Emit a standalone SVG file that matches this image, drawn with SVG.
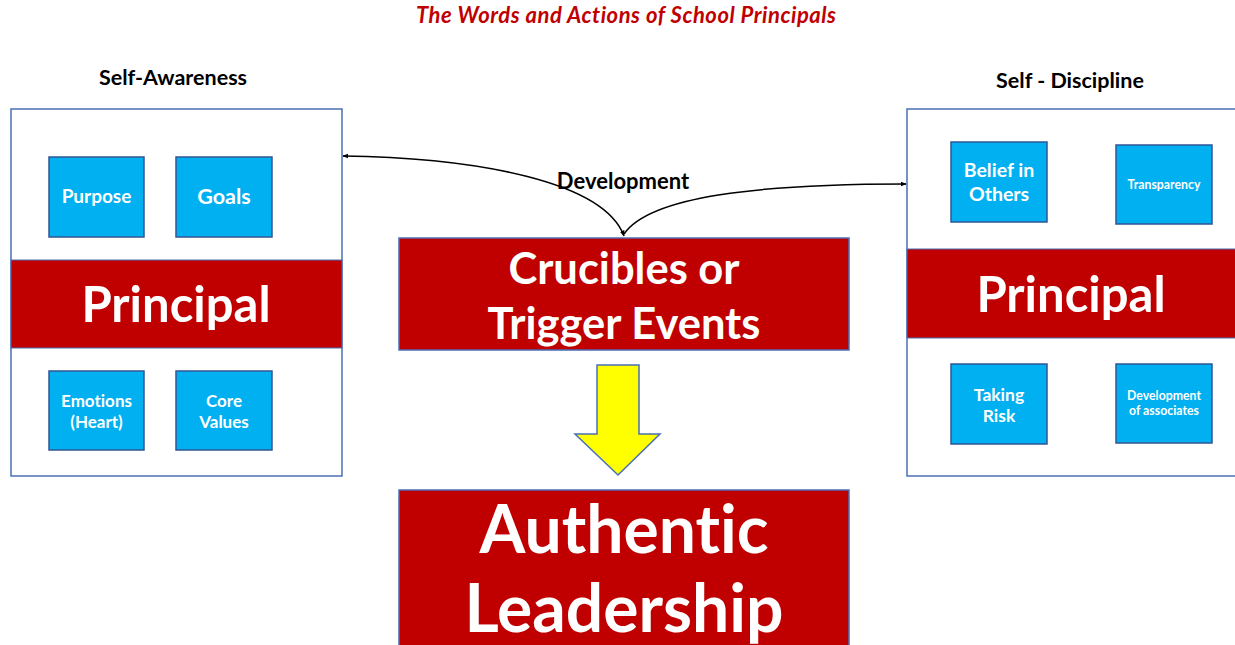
<svg xmlns="http://www.w3.org/2000/svg" width="1235" height="645" viewBox="0 0 1235 645">
  <style>
    .frame { fill: #ffffff; stroke: #4a6fb5; stroke-width: 1.5; }
    .band { fill: #c00000; stroke: #4a6fb5; stroke-width: 1; }
    .tile { fill: #00b0f0; stroke: #2f5597; stroke-width: 1.5; }
    .big { fill: #c00000; stroke: #4a6fb5; stroke-width: 1.5; }
    .t { font-family: Lato, "Open Sans", "Liberation Sans", sans-serif; font-weight: bold; text-anchor: middle; font-variant-ligatures: none; }
    .w { fill: #ffffff; }
    .k { fill: #000000; }
    .conn { fill: none; stroke: #000000; stroke-width: 1.5; }
  </style>
  <defs>
    <marker id="head" viewBox="0 0 10 10" refX="9" refY="5" markerWidth="6" markerHeight="6" orient="auto-start-reverse" markerUnits="userSpaceOnUse">
      <path d="M0,1 L10,5 L0,9 Z" fill="#000000"/>
    </marker>
  </defs>

  <rect width="1235" height="645" fill="#ffffff"/>

  <text class="t" x="626" y="23" font-size="22" font-style="italic" fill="#c00000" textLength="420" lengthAdjust="spacing">The Words and Actions of School Principals</text>

  <!-- Left panel: self-awareness -->
  <g id="self-awareness">
    <text class="t k" x="173" y="85" font-size="21.5">Self-Awareness</text>
    <rect class="frame" x="11" y="109" width="331" height="367"/>
    <rect class="band" x="11" y="260" width="331" height="88"/>
    <text class="t w" x="176" y="322" font-size="49">Principal</text>
    <g id="purpose">
      <rect class="tile" x="49" y="157" width="95" height="80"/>
      <text class="t w" x="96.5" y="203" font-size="19">Purpose</text>
    </g>
    <g id="goals">
      <rect class="tile" x="176" y="157" width="96" height="80"/>
      <text class="t w" x="224" y="204" font-size="21.5">Goals</text>
    </g>
    <g id="emotions">
      <rect class="tile" x="49" y="371" width="95" height="79"/>
      <text class="t w" x="96.5" y="407" font-size="17">Emotions</text>
      <text class="t w" x="96.5" y="428" font-size="17">(Heart)</text>
    </g>
    <g id="core-values">
      <rect class="tile" x="176" y="371" width="96" height="79"/>
      <text class="t w" x="224" y="407" font-size="17">Core</text>
      <text class="t w" x="224" y="428" font-size="17">Values</text>
    </g>
  </g>

  <!-- Right panel: self-discipline -->
  <g id="self-discipline">
    <text class="t k" x="1070" y="88" font-size="21.5">Self - Discipline</text>
    <rect class="frame" x="907" y="109" width="340" height="367"/>
    <rect class="band" x="907" y="249" width="340" height="89"/>
    <text class="t w" x="1071" y="312" font-size="49">Principal</text>
    <g id="belief">
      <rect class="tile" x="951" y="142" width="96" height="80"/>
      <text class="t w" x="999" y="177" font-size="19.5">Belief in</text>
      <text class="t w" x="999" y="201" font-size="19.5">Others</text>
    </g>
    <g id="transparency">
      <rect class="tile" x="1116" y="145" width="96" height="79"/>
      <text class="t w" x="1164" y="189" font-size="12.3">Transparency</text>
    </g>
    <g id="taking-risk">
      <rect class="tile" x="951" y="364" width="96" height="80"/>
      <text class="t w" x="999" y="401" font-size="17.5">Taking</text>
      <text class="t w" x="999" y="422" font-size="17.5">Risk</text>
    </g>
    <g id="associates">
      <rect class="tile" x="1116" y="364" width="96" height="79"/>
      <text class="t w" x="1164" y="400" font-size="12.3">Development</text>
      <text class="t w" x="1164" y="415" font-size="12.3">of associates</text>
    </g>
  </g>

  <!-- Central nodes -->
  <g id="crucibles">
    <rect class="big" x="399" y="238" width="450" height="112"/>
    <text class="t w" x="624" y="284" font-size="43.5">Crucibles or</text>
    <text class="t w" x="624" y="339" font-size="43.5">Trigger Events</text>
  </g>

  <g id="authentic-leadership">
    <rect class="big" x="399" y="490" width="450" height="170"/>
    <text class="t w" x="624" y="553" font-size="66">Authentic</text>
    <text class="t w" x="624" y="632" font-size="66">Leadership</text>
  </g>

  <!-- Connectors -->
  <g id="connectors">
    <path class="conn" d="M624,236 C604,182 480,158 343,156" marker-start="url(#head)" marker-end="url(#head)"/>
    <path class="conn" d="M624,234 C650,196 760,184 906,184" marker-end="url(#head)"/>
    <text class="t k" x="623" y="189" font-size="22">Development</text>
    <polygon points="597,365 639,365 639,434 660,434 618,475 575,434 597,434" fill="#ffff00" stroke="#4a6fb5" stroke-width="1.5"/>
  </g>
</svg>
